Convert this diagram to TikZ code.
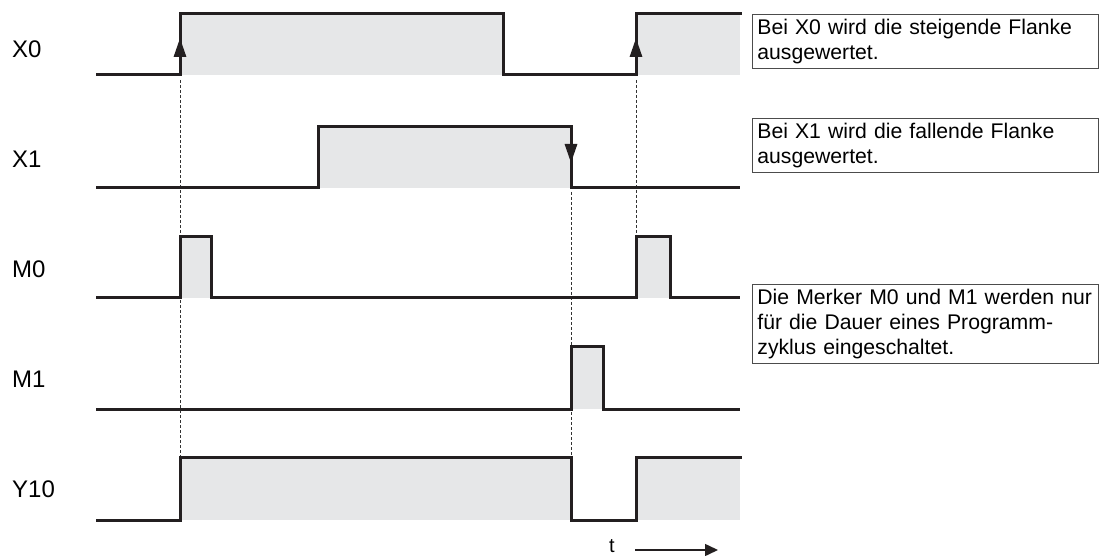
\documentclass[tikz,border=0pt]{standalone}
\usepackage{fontspec}
\setmainfont{Liberation Sans}
\usetikzlibrary{arrows.meta,positioning}
\definecolor{sigfill}{RGB}{230,231,232}
\definecolor{sigline}{RGB}{35,31,32}

\begin{document}
\begin{tikzpicture}[
    x=1pt,y=-1pt,
    signame/.style={anchor=base west,inner sep=0pt,font=\fontsize{24}{28}\selectfont},
    note/.style={draw=black!70,line width=0.8pt,anchor=north west,align=left,text width=336pt,inner xsep=5pt,inner ysep=4.5pt,font=\fontsize{21.2}{25}\selectfont},
    signal/.style={line width=3pt,sigline,line join=miter},
    flank/.style={-{Triangle[length=19pt,width=12pt]},line width=3pt,sigline},
    guide/.style={black!80,line width=1pt,dash pattern=on 3pt off 2pt},
    timearrow/.style={-{Triangle[length=13pt,width=12pt]},line width=1.5pt,sigline}
  ]
    \useasboundingbox (0,0) rectangle (1101,556);

    % signal names
    \node[signame] (lblX0) at (12,58) {X0};
    \node[signame] (lblX1) at (12,168) {X1};
    \node[signame] (lblM0) at (12,278) {M0};
    \node[signame] (lblM1) at (12,387) {M1};
    \node[signame] (lblY10) at (12,497) {Y10};

    % high phases
    \fill[sigfill] (180,14) rectangle (503,75);
    \fill[sigfill] (636,14) rectangle (740,75);
    \fill[sigfill] (318,127) rectangle (571,188);
    \fill[sigfill] (180,237) rectangle (211,298);
    \fill[sigfill] (636,237) rectangle (670,298);
    \fill[sigfill] (571,346) rectangle (603,409);
    \fill[sigfill] (180,457) rectangle (571,520);
    \fill[sigfill] (636,457) rectangle (740,520);

    % guide lines
    \draw[guide] (180,80) -- (180,457);
    \draw[guide] (571,192) -- (571,457);
    \draw[guide] (636,80) -- (636,237);

    % signals
    \draw[signal] (96,75) -- (180,75) -- (180,14) -- (503,14) -- (503,75) -- (636,75) -- (636,14) -- (742,14);
    \draw[signal] (96,188) -- (318,188) -- (318,127) -- (571,127) -- (571,188) -- (740,188);
    \draw[signal] (96,298) -- (180,298) -- (180,237) -- (211,237) -- (211,298) -- (636,298) -- (636,237) -- (670,237) -- (670,298) -- (740,298);
    \draw[signal] (96,409) -- (571,409) -- (571,346) -- (603,346) -- (603,409) -- (740,409);
    \draw[signal] (96,520) -- (180,520) -- (180,457) -- (571,457) -- (571,520) -- (636,520) -- (636,457) -- (742,457);

    % evaluated edges
    \draw[flank] (180,75) -- (180,38);
    \draw[flank] (636,75) -- (636,38);
    \draw[flank] (571,127) -- (571,163);

    % notes
    \node[note] (noteX0) at (752,14) {Bei X0 wird die steigende Flanke\\ausgewertet.};
    \node[note] (noteX1) at (752,118) {Bei X1 wird die fallende Flanke\\ausgewertet.};
    \node[note] (noteM) at (752,284) {\mbox{Die Merker M0 und M1 werden nur}\\f\"ur die Dauer eines Programm-\\zyklus eingeschaltet.};

    % time axis
    \node[anchor=base,inner sep=0pt,font=\fontsize{20}{24}\selectfont] (tlabel) at (612,552) {t};
    \coordinate (tstart) at (635,550);
    \coordinate (tend) at (718,550);
    \draw[timearrow] (tstart) -- (tend);
  \end{tikzpicture}
\end{document}
